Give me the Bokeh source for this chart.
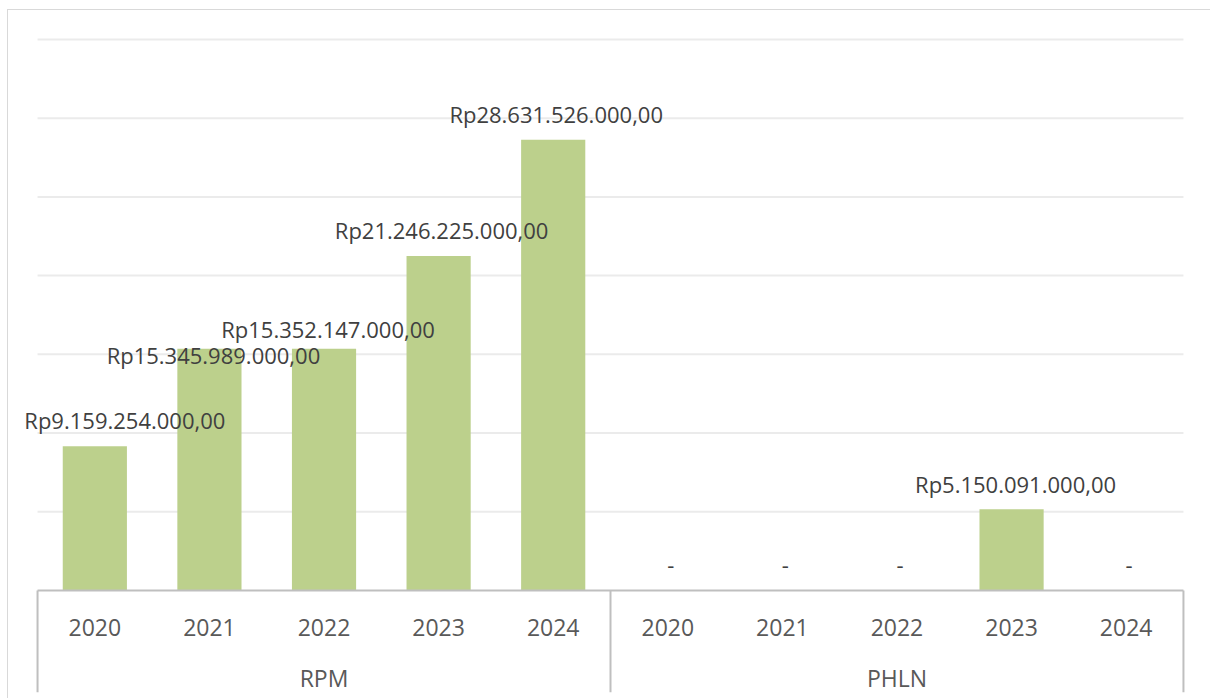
from bokeh.plotting import figure
from bokeh.models import (FactorRange, Range1d, ColumnDataSource,
                          CategoricalAxis, LabelSet, Grid)
from bokeh.core.properties import value
from bokeh.embed import file_html
from bokeh.resources import INLINE

# ---- data ----
groups = ["RPM", "PHLN"]
years = ["2020", "2021", "2022", "2023", "2024"]
rpm_values = [9159254000, 15345989000, 15352147000, 21246225000, 28631526000]
phln_values = [0, 0, 0, 5150091000, 0]
grid_values = [5e9, 10e9, 15e9, 20e9, 25e9, 30e9, 35e9]

# ---- label placement (style, px) ----
label_dx = [30, 4, 4, 3, 3, 3, 3, 3, 4, 3]
label_dy = [26, -6, 20, 26, 26, 25, 25, 25, 25, 25]


def rupiah(v):
    if v == 0:
        return "-"
    s = f"{v:,.2f}"
    s = s.replace(",", "_").replace(".", ",").replace("_", ".")
    return "Rp" + s


factors = [(g, y) for g in groups for y in years]
values = rpm_values + phln_values
src = ColumnDataSource(dict(
    x=factors,
    top=values,
    label=[rupiah(v) for v in values],
    dx=label_dx,
    dy=label_dy,
))

FONT = "Open Sans"
px_per_unit = 78.6 / 5e9
y_top = 35e9 + 9 / px_per_unit
y_bottom = -102 / px_per_unit

p = figure(
    x_range=FactorRange(*factors, factor_padding=0, group_padding=0,
                        range_padding=0.14, range_padding_units="absolute"),
    y_range=Range1d(y_bottom, y_top),
    width=1203, height=689,
    x_axis_location=None, y_axis_location=None,
    output_backend="svg", toolbar_location=None,
    min_border_left=13, min_border_right=12,
    min_border_top=20, min_border_bottom=7,
)
p.outline_line_color = None
p.background_fill_color = "white"
p.border_fill_color = "white"
p.styles = {"border-left": "1px solid #d9d9d9", "border-top": "1px solid #d9d9d9",
            "margin-top": "9px", "margin-left": "7px"}
p.center = [r for r in p.center if not isinstance(r, Grid)]

left_edge = (groups[0], years[0], -0.5)
right_edge = (groups[-1], years[-1], 0.5)
mid_edge = (groups[0], years[-1], 0.5)

# horizontal gridlines spanning the category area
n = len(grid_values)
p.segment(x0=[left_edge] * n, x1=[right_edge] * n, y0=grid_values, y1=grid_values,
          line_color="#ebebeb", line_width=2)

p.vbar(x="x", top="top", width=0.56, source=src,
       fill_color="#bcd08c", line_color=None)

# category axis baseline and separators
p.segment(x0=[left_edge], x1=[right_edge], y0=[0], y1=[0],
          line_color="#bfbfbf", line_width=2)
sep_x = [left_edge, mid_edge, right_edge]
p.segment(x0=sep_x, x1=sep_x, y0=[0] * 3, y1=[y_bottom] * 3,
          line_color="#bfbfbf", line_width=2)

xaxis = CategoricalAxis(fixed_location=0)
xaxis.axis_line_color = None
xaxis.major_tick_line_color = None
xaxis.major_tick_out = 6
xaxis.major_tick_in = 0
xaxis.separator_line_color = None
xaxis.major_label_text_font = FONT
xaxis.major_label_text_font_size = "23px"
xaxis.major_label_text_color = "#595959"
xaxis.major_label_standoff = 23
xaxis.group_text_font = FONT
xaxis.group_text_font_size = "23px"
xaxis.group_text_font_style = "normal"
xaxis.group_text_color = "#595959"
p.add_layout(xaxis, "below")

labels = LabelSet(x="x", y="top", text="label", source=src,
                  x_offset="dx", y_offset="dy",
                  text_align="center", text_baseline="middle",
                  text_font=value(FONT), text_font_size="22px",
                  text_color="#404040")
p.add_layout(labels)

open("out.html", "w").write(file_html(p, INLINE))
